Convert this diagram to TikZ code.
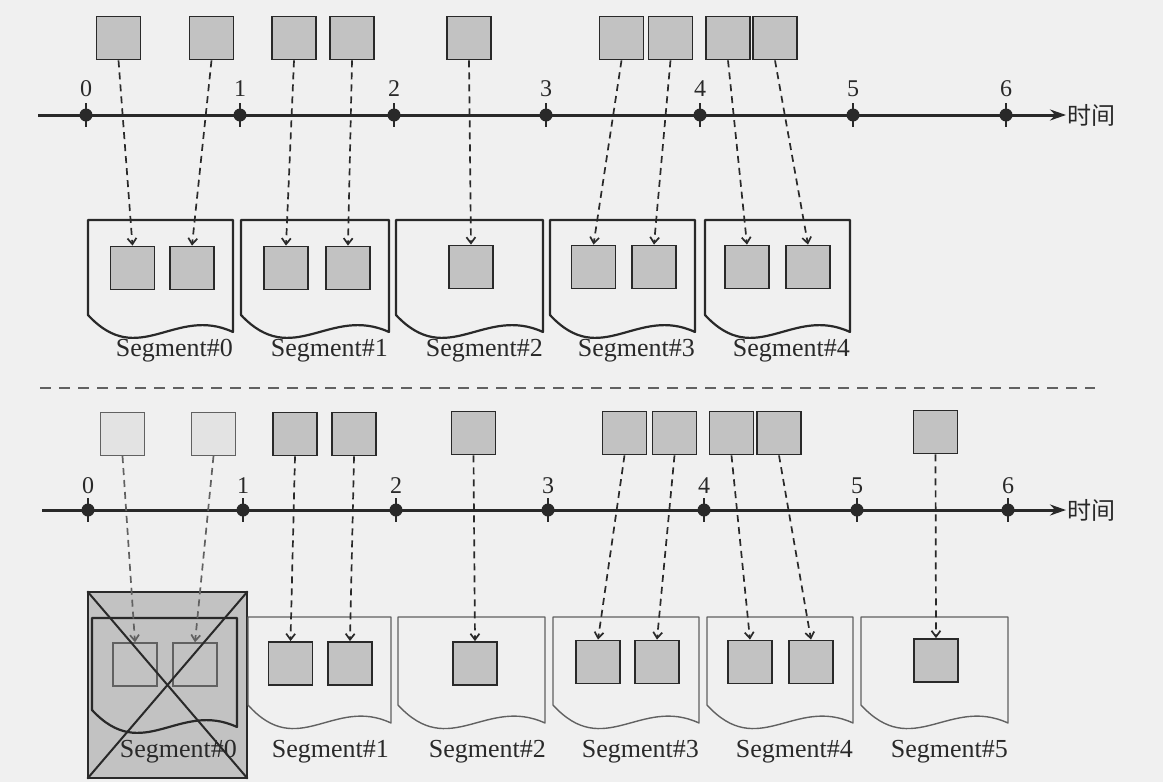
\documentclass[tikz,border=0pt]{standalone}
\usepackage{fontspec}
\setmainfont{Liberation Serif}
\newfontfamily\cjk{Noto Sans CJK SC}
\usetikzlibrary{arrows.meta}
\definecolor{paper}{gray}{0.94}
\definecolor{boxgray}{gray}{0.76}
\definecolor{oldbox}{gray}{0.89}
\definecolor{inkline}{gray}{0.16}
\definecolor{fadeline}{gray}{0.38}

\begin{document}
\begin{tikzpicture}[x=1pt, y=-1pt,
  evt/.style={draw=inkline, line width=1.8pt, fill=boxgray, minimum width=44pt, minimum height=43pt, inner sep=0pt},
  oldevt/.style={evt, draw=fadeline, line width=1.1pt, fill=oldbox},
  deadbox/.style={draw=inkline, line width=1.4pt, fill=boxgray, inner sep=0pt},
  flow/.style={draw=inkline, line width=1.7pt, dash pattern=on 7pt off 5pt, -{Straight Barb[length=6pt,width=9pt]}},
  axis/.style={draw=inkline, line width=3pt, -{Stealth[length=16pt,width=11pt]}},
  tick/.style={circle, fill=inkline, inner sep=0pt, minimum size=13pt},
  tickbar/.style={draw=inkline, line width=2.5pt},
  docA/.style={draw=inkline, line width=2.2pt, line join=round},
  docB/.style={draw=fadeline, line width=1.4pt, line join=round},
  cross/.style={draw=inkline, line width=2pt},
  sepline/.style={draw=fadeline, line width=1.5pt, dash pattern=on 11pt off 8pt},
  digit/.style={font=\fontsize{24}{28}\selectfont, text=inkline, inner sep=0pt},
  seglabel/.style={font=\fontsize{26}{30}\selectfont, text=inkline, anchor=east, inner sep=0pt},
  cjkword/.style={font=\cjk\fontsize{24}{28}\selectfont, text=inkline, anchor=west, inner sep=1pt}]
\fill[paper] (0,0) rectangle (1163,782);
\useasboundingbox (0,0) rectangle (1163,782);

% upper time line
\coordinate (axa0) at (38,115);
\node[cjkword] (tima) at (1066,115) {时间};
\draw[axis] (axa0) -- (tima.west);
\foreach \x [count=\i from 0] in {86,240,394,546,700,853,1006} {
  \node[tick] (ta\i) at (\x,115) {};
  \draw[tickbar] (ta\i.center) ++(0,-12) -- ++(0,24);
  \node[digit] (da\i) at (\x,89) {\i};
}
\node[evt] (up1) at (118.5,38) {};\node[evt] (up2) at (211.5,38) {};\node[evt] (up3) at (294,38) {};\node[evt] (up4) at (352,38) {};
\node[evt] (up5) at (469,38) {};\node[evt] (up6) at (621.5,38) {};\node[evt] (up7) at (670.5,38) {};\node[evt] (up8) at (728,38) {};\node[evt] (up9) at (775,38) {};
\foreach \l/\r in {88/233,241/389,396/543,550/695,705/850}
  \draw[docA] (\l,220) -- (\r,220) -- (\r,332) .. controls ({\l+0.6*(\r-\l)},305) and ({\l+0.35*(\r-\l)},370) .. (\l,315) -- cycle;
\node[evt] (us1) at (132.5,268) {};\node[evt] (us2) at (192,268) {};\node[evt] (us3) at (286,268) {};\node[evt] (us4) at (348,268) {};
\node[evt] (us5) at (471,267) {};\node[evt] (us6) at (593.5,267) {};\node[evt] (us7) at (654,267) {};\node[evt] (us8) at (747,267) {};\node[evt] (us9) at (808,267) {};
\draw[flow] (up1.south) -- (us1.north);\draw[flow] (up2.south) -- (us2.north);\draw[flow] (up3.south) -- (us3.north);\draw[flow] (up4.south) -- (us4.north);\draw[flow] (up5.south) -- (us5.north);
\draw[flow] (up6.south) -- (us6.north);\draw[flow] (up7.south) -- (us7.north);\draw[flow] (up8.south) -- (us8.north);\draw[flow] (up9.south) -- (us9.north);
\node[seglabel] (sa0) at (233,351) {Segment\#0};\node[seglabel] (sa1) at (388,351) {Segment\#1};\node[seglabel] (sa2) at (543,351) {Segment\#2};
\node[seglabel] (sa3) at (695,351) {Segment\#3};\node[seglabel] (sa4) at (850,351) {Segment\#4};

\coordinate (sepL) at (40,388);\coordinate (sepR) at (1095,388);
\draw[sepline] (sepL) -- (sepR);

% lower time line
\coordinate (axb0) at (42,510);
\node[cjkword] (timb) at (1066,510) {时间};
\draw[axis] (axb0) -- (timb.west);
\foreach \x [count=\i from 0] in {88,243,396,548,704,857,1008} {
  \node[tick] (tb\i) at (\x,510) {};
  \draw[tickbar] (tb\i.center) ++(0,-12) -- ++(0,24);
  \node[digit] (db\i) at (\x,486) {\i};
}
\node[oldevt] (lo1) at (122.5,434) {};\node[oldevt] (lo2) at (213.5,434) {};\node[evt] (lo3) at (295,434) {};\node[evt] (lo4) at (354,434) {};\node[evt] (lo5) at (473.5,433) {};
\node[evt] (lo6) at (624.5,433) {};\node[evt] (lo7) at (674.5,433) {};\node[evt] (lo8) at (731.5,433) {};\node[evt] (lo9) at (779,433) {};\node[evt] (lo10) at (935.5,432) {};
\node[deadbox, minimum width=159pt, minimum height=186pt] (dead) at (167.5,685) {};
\draw[docA] (92,618) -- (237,618) -- (237,727) .. controls (179,700) and (143,765) .. (92,710) -- cycle;
\foreach \l/\r in {248/391,398/545,553/699,707/853,861/1008}
  \draw[docB] (\l,617) -- (\r,617) -- (\r,723) .. controls ({\l+0.6*(\r-\l)},696) and ({\l+0.35*(\r-\l)},761) .. (\l,705) -- cycle;
\node[evt, draw=fadeline, line width=1.4pt] (ls1) at (135,664.5) {};\node[evt, draw=fadeline, line width=1.4pt] (ls2) at (195,664.5) {};\node[evt] (ls3) at (290.5,663.5) {};\node[evt] (ls4) at (350,663.5) {};\node[evt] (ls5) at (475,663.5) {};
\node[evt] (ls6) at (598,662) {};\node[evt] (ls7) at (657,662) {};\node[evt] (ls8) at (750,662) {};\node[evt] (ls9) at (811,662) {};\node[evt] (ls10) at (936,660.5) {};
\draw[flow, draw=fadeline] (lo1.south) -- (ls1.north);\draw[flow, draw=fadeline] (lo2.south) -- (ls2.north);\draw[flow] (lo3.south) -- (ls3.north);\draw[flow] (lo4.south) -- (ls4.north);\draw[flow] (lo5.south) -- (ls5.north);
\draw[flow] (lo6.south) -- (ls6.north);\draw[flow] (lo7.south) -- (ls7.north);\draw[flow] (lo8.south) -- (ls8.north);\draw[flow] (lo9.south) -- (ls9.north);\draw[flow] (lo10.south) -- (ls10.north);
\node[seglabel] (sb0) at (237,752) {Segment\#0};\node[seglabel] (sb1) at (389,752) {Segment\#1};\node[seglabel] (sb2) at (546,752) {Segment\#2};
\node[seglabel] (sb3) at (699,752) {Segment\#3};\node[seglabel] (sb4) at (853,752) {Segment\#4};\node[seglabel] (sb5) at (1008,752) {Segment\#5};
\draw[cross] (dead.north west) -- (dead.south east);\draw[cross] (dead.north east) -- (dead.south west);
\end{tikzpicture}
\end{document}
